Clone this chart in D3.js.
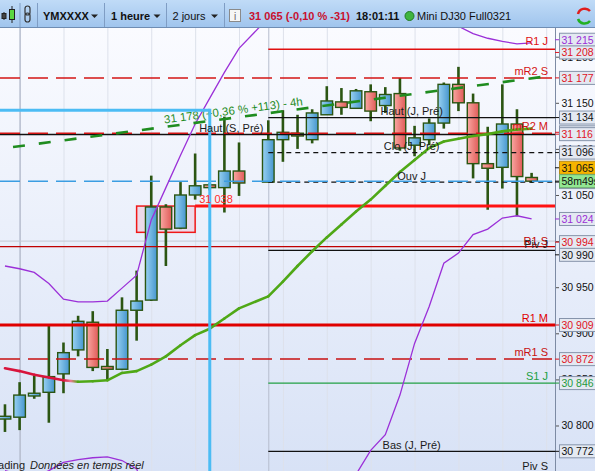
<!DOCTYPE html>
<html><head><meta charset="utf-8">
<script src="https://cdn.jsdelivr.net/npm/d3@7"></script>
<style>
html,body{margin:0;padding:0;background:#fff;overflow:hidden}
svg{display:block;font-family:"Liberation Sans",Arial,Helvetica,sans-serif}
</style></head><body>
<svg id="c" width="595" height="471"></svg>
<script>
// ---------------- DATA ----------------
const barIndex = [0,1,2,3,4,5,6,7,8,9,10,11,12,13,14,15,16,18,19,20,21,22,23,24,25,26,27,28,29,30,31,32,33,34,35,36];
const opens  = [30807,30809,30832,30836,30856,30882,30912,30864,30861,30925,30936,31037,31014,31050,31061,31058,31076,
                31064,31110,31117,31110,31137,31151,31144,31162,31147,31160,31104,31110,31128,31170,31150,31084,31080,31127,31069];
const highs  = [30823,30847,30854,30909,30890,30919,30924,30883,30939,30968,31071,31040,31064,31095,31063,31135,31107,
                31131,31142,31137,31143,31168,31166,31165,31170,31167,31177,31125,31133,31172,31189,31160,31124,31170,31143,31074];
const lows   = [30793,30795,30829,30803,30835,30875,30859,30849,30860,30892,30935,30973,31013,31045,31055,31031,31049,
                31064,31086,31100,31106,31137,31137,31144,31130,31139,31098,31092,31104,31122,31141,31068,31034,31057,31027,31063];
const closes = [30810,30833,30835,30853,30879,30913,30863,30861,30925,30935,31037,31013,31050,31060,31058,31076,31063,
                31110,31118,31114,31139,31152,31145,31163,31141,31159,31101,31112,31128,31170,31150,31084,31079,31127,31070,31065];
const maValues = [30862,30859,30855,30852,30849,30847.5,30848,30849,30857,30859,30866,30875,30887,30898,30905,30916,30927,
                  30940,30956,30973,30989,31004,31018,31032,31045,31060,31075,31088,31101,31108,31111,31114,31116,31119,31121,31122];
const bbUpper = [30973,30970,30966,30954,30937,30934,30934,30935,30949,30963,31023,31058,31093,31127,31155,31183,31209,
                 31242,31251,31256,31260,31263,31265,31266,31266,31265,31262,31258,31252,31244,31233,31225,31220,31216.5,31214,31215];
const bbLower = [30751,30747,30744,30751,30760,30763,30765,30766,30762,30753,30710,30693,30680,30669,30656,30649,30645,
                 30637,30640,30650,30665,30685,30712,30747,30773,30790,30833,30889,30929,30976,30987,31007,31013,31025,31027.5,31024];

const levelNames  = ["R1 J","mR2 S","Haut (J, Pré)","Haut (S, Pré)","mR2 M","Clo (J, Pré)","Ouv J","Dernier","31 038","R1 S","Piv J","R1 M","mR1 S","S1 J","Bas (J, Pré)","Piv S"];
const levelValues = [31208,31177,31134,31115.5,31117,31096,31064,31065,31038,30994,30990,30909,30872,30846,30772,30748];

const tickValues = [30800,30850,30900,30950,31000,31050,31100,31150,31200];
const gridBars = [1,4,7,10,13,16,19,22,25,28,31,34,37];
const dayBars = [1,18];
const hGridValues = [31000];

const trendBars = [0.55, 36.9];
const trendValues = [31102, 31178.5];
const trendLabel = "31 178 (+0,36 % +113) - 4h";

const zoneBars = [9, 13];
const zoneValues = [31038, 31009.5];
const cursorBar = 14, cursorValue = 31142;

const boxValues = [31118,31064,31215,31208,31177,31134,31116,31096,31024,30994,30990,30909,30872,30846,30772];
const boxRoles  = ["res","day","band","res","res","day","res","day","band","res","day","res","res","sup","day"];
const hiddenBoxValues = [31118,31064];
const lastPrice = 31065;
const countdownText = "58m49s";

const toolbarTexts = ["YMXXXX","1 heure","2 jours","31 065 (-0,10 % -31)","18:01:11","Mini DJ30 Full0321"];
const footerTexts = ["Trading","Données en temps réel"];

// ---------------- SETUP ----------------
const svg = d3.select("#c");
const PR = 555, PT = 28, PB = 471;
const x = d3.scaleLinear().domain([-0.34, 37.6]).range([0, PR]);
const y = d3.scaleLinear().domain([30700, 31300]).range([325 + 209*0.922, 325 - 391*0.922]);
const locale = d3.formatLocale({decimal:",", thousands:" ", grouping:[3], currency:["",""]});
const fmt = locale.format(",d");

const defs = svg.append("defs");
const bg = defs.append("linearGradient").attr("id","bg").attr("x1",0).attr("y1",0).attr("x2",0).attr("y2",1);
bg.append("stop").attr("offset","0%").attr("stop-color","#fafbff");
bg.append("stop").attr("offset","100%").attr("stop-color","#d8e2f6");
const tbg = defs.append("linearGradient").attr("id","tbg").attr("x1",0).attr("y1",0).attr("x2",0).attr("y2",1);
tbg.append("stop").attr("offset","0%").attr("stop-color","#c0dbf7");
tbg.append("stop").attr("offset","100%").attr("stop-color","#9fc4ed");
const ug = defs.append("linearGradient").attr("id","up").attr("x1",0).attr("y1",0).attr("x2",1).attr("y2",0);
ug.append("stop").attr("offset","0%").attr("stop-color","#98d1f2");
ug.append("stop").attr("offset","100%").attr("stop-color","#4696ce");
const dg = defs.append("linearGradient").attr("id","dn").attr("x1",0).attr("y1",0).attr("x2",1).attr("y2",0);
dg.append("stop").attr("offset","0%").attr("stop-color","#f9a7a2");
dg.append("stop").attr("offset","100%").attr("stop-color","#e05b58");
defs.append("clipPath").attr("id","plot").append("rect").attr("x",0).attr("y",PT).attr("width",PR).attr("height",PB-PT);

svg.append("rect").attr("x",0).attr("y",PT).attr("width",595).attr("height",PB-PT).attr("fill","url(#bg)");

const plot = svg.append("g").attr("clip-path","url(#plot)");

// grid
plot.selectAll(".vg").data(gridBars).join("line")
  .attr("x1",d=>x(d)+0.5).attr("x2",d=>x(d)+0.5).attr("y1",PT).attr("y2",PB)
  .attr("stroke",d=>dayBars.includes(d)?"#b5bccd":"#dde1eb").attr("stroke-width",1);
plot.selectAll(".vd").data(dayBars).join("line")
  .attr("x1",d=>x(d)+0.5).attr("x2",d=>x(d)+0.5).attr("y1",PT).attr("y2",PB)
  .attr("stroke","#b5bccd").attr("stroke-width",1);
plot.selectAll(".hg").data(hGridValues).join("line")
  .attr("x1",0).attr("x2",PR).attr("y1",d=>y(d)).attr("y2",d=>y(d))
  .attr("stroke","#c3c9d6").attr("stroke-width",1);

// zone rectangle
plot.append("rect")
  .attr("x",x(zoneBars[0])).attr("width",x(zoneBars[1])-x(zoneBars[0]))
  .attr("y",y(zoneValues[0])).attr("height",y(zoneValues[1])-y(zoneValues[0]))
  .attr("fill","rgba(240,190,210,0.45)").attr("stroke","#f01818").attr("stroke-width",1.5);

// candles
const bars = barIndex.map((b,i)=>({b,o:opens[i],h:highs[i],l:lows[i],c:closes[i]}));
const cg = plot.append("g");
cg.selectAll(".wick").data(bars).join("line")
  .attr("x1",d=>x(d.b)).attr("x2",d=>x(d.b)).attr("y1",d=>y(d.h)).attr("y2",d=>y(d.l))
  .attr("stroke","#2b5512").attr("stroke-width",2.6);
cg.selectAll(".body").data(bars).join("rect")
  .attr("x",d=>x(d.b)-5.8).attr("width",11.6)
  .attr("y",d=>y(Math.max(d.o,d.c))).attr("height",d=>Math.max(2.5,Math.abs(y(d.o)-y(d.c))))
  .attr("fill",d=>d.c>=d.o?"url(#up)":"url(#dn)")
  .attr("stroke","#2b5512").attr("stroke-width",1.4);

// level lines
const lv = {
  "R1 J":{c:"#e01010",w:1.5,d:null,s:18,lab:"right",dy:-4},
  "mR2 S":{c:"#d41414",w:1.5,d:"20,8",s:-1,lab:"right",dy:-3},
  "Haut (J, Pré)":{c:"#111",w:1.3,d:null,s:18,lab:"mid",dy:-2.5},
  "Haut (S, Pré)":{c:"#111",w:1.5,d:null,s:-1,lab:"start",ls:13,dy:-2.5},
  "mR2 M":{c:"#d41414",w:1.5,d:"20,8",s:-1,lab:"right",dy:-3},
  "Clo (J, Pré)":{c:"#111",w:1.3,d:"5,4",s:18,lab:"mid",dy:-3},
  "Ouv J":{c:"#111",w:1.3,d:"5,4",s:18,lab:"mid",dy:-2.5},
  "Dernier":{c:"#3b9de2",w:1.5,d:"20,8",s:-1,lab:null},
  "31 038":{c:"#ff1212",w:3,d:null,s:13,lab:"start",ls:13,dy:-3.5,col:"#ff2a2a"},
  "R1 S":{c:"#c00000",w:1.2,d:null,s:-1,lab:"right",dy:-2},
  "Piv J":{c:"#111",w:1.2,d:null,s:18,lab:"right",dy:-2,col:"#222"},
  "R1 M":{c:"#e00000",w:3,d:null,s:-1,lab:"right",dy:-3},
  "mR1 S":{c:"#c81010",w:1.5,d:"20,8",s:-1,lab:"right",dy:-3},
  "S1 J":{c:"#22a044",w:1.3,d:null,s:18,lab:"right",dy:-3},
  "Bas (J, Pré)":{c:"#111",w:1.3,d:null,s:18,lab:"mid",dy:-2},
  "Piv S":{c:"#111",w:1.3,d:null,s:18,lab:"right",dy:-1}
};
const levels = levelNames.map((n,i)=>({n,v:levelValues[i],st:lv[n]}));
plot.selectAll(".lvl").data(levels).join("line")
  .attr("x1",d=>d.st.s<0?0:x(d.st.s)).attr("x2",PR)
  .attr("y1",d=>y(d.v)).attr("y2",d=>y(d.v))
  .attr("stroke",d=>d.st.c).attr("stroke-width",d=>d.st.w)
  .attr("stroke-dasharray",d=>d.st.d);

// Bollinger
const bbLine = d3.line().x(d=>x(d[0])).y(d=>y(d[1]));
plot.append("path").attr("d",bbLine(barIndex.map((b,i)=>[b,bbUpper[i]])))
  .attr("fill","none").attr("stroke","#9b30d8").attr("stroke-width",1.3);
plot.append("path").attr("d",bbLine(barIndex.map((b,i)=>[b,bbLower[i]])))
  .attr("fill","none").attr("stroke","#9b30d8").attr("stroke-width",1.3);

// Moving average, colored by direction
const red="#d8143c", green="#4fa816";
for(let i=0;i<barIndex.length-1;i++){
  const up = maValues[i+1]>=maValues[i];
  const nextUp = i+2<barIndex.length ? maValues[i+2]>=maValues[i+1] : up;
  let col = up?green:red;
  if(!up && nextUp){
    const gid="ma"+i;
    const g=defs.append("linearGradient").attr("id",gid).attr("gradientUnits","userSpaceOnUse")
      .attr("x1",x(barIndex[i])).attr("x2",x(barIndex[i+1])).attr("y1",0).attr("y2",0);
    g.append("stop").attr("offset","0%").attr("stop-color",red);
    g.append("stop").attr("offset","50%").attr("stop-color","#ec7a90");
    g.append("stop").attr("offset","100%").attr("stop-color",green);
    col="url(#"+gid+")";
  }
  plot.append("line").attr("x1",x(barIndex[i])).attr("x2",x(barIndex[i+1]))
    .attr("y1",y(maValues[i])).attr("y2",y(maValues[i+1]))
    .attr("stroke",col).attr("stroke-width",2.6).attr("stroke-linecap","round");
}

// trend line
const tx1=x(trendBars[0]), ty1=y(trendValues[0]), tx2=x(trendBars[1]), ty2=y(trendValues[1]);
plot.append("line").attr("x1",tx1).attr("y1",ty1).attr("x2",tx2).attr("y2",ty2)
  .attr("stroke","#1f8c1f").attr("stroke-width",2.6).attr("stroke-dasharray","12,14");
const ang = Math.atan2(ty2-ty1, tx2-tx1)*180/Math.PI;
const lx = 165, ly = ty1 + (ty2-ty1)*(lx-tx1)/(tx2-tx1);
plot.append("text").attr("transform",`translate(${lx},${ly}) rotate(${ang})`).attr("y",-3.5)
  .attr("font-size",11.5).attr("fill","#1f8c1f").text(trendLabel);

// cursor lines
plot.append("line").attr("x1",0).attr("x2",x(cursorBar)).attr("y1",y(cursorValue)).attr("y2",y(cursorValue))
  .attr("stroke","#4cbcf4").attr("stroke-width",3);
plot.append("line").attr("x1",x(cursorBar)).attr("x2",x(cursorBar)).attr("y1",y(cursorValue)-1.5).attr("y2",PB)
  .attr("stroke","#4cbcf4").attr("stroke-width",3);

// level labels
const lg = plot.append("g").attr("font-size",11);
levels.filter(d=>d.st.lab).forEach(d=>{
  const st=d.st;
  const col = st.col || (st.c==="#111"?"#1a1a1a":st.c);
  let tx, anchor;
  if(st.lab==="right"){tx=548; anchor="end";}
  else if(st.lab==="mid"){tx=(x(st.s)+PR)/2; anchor="middle";}
  else {tx=x(st.ls)+4; anchor="start";}
  const yy = d.n==="Piv S" ? PB-1.5 : y(d.v)+st.dy;
  lg.append("text").attr("x",tx).attr("y",yy).attr("text-anchor",anchor).attr("fill",col).text(d.n);
});

// footer
svg.append("text").attr("x",25).attr("y",469).attr("text-anchor","end").attr("font-size",11).attr("fill","#222").text(footerTexts[0]);
svg.append("text").attr("x",30).attr("y",469).attr("font-size",11).attr("font-style","italic").attr("fill","#222").text(footerTexts[1]);

// right axis
const ax = svg.append("g").attr("transform",`translate(${PR},0)`)
  .call(d3.axisRight(y).tickValues(tickValues).tickSize(4).tickPadding(2.5).tickFormat(fmt));
ax.select(".domain").remove();
ax.selectAll("text").attr("font-size",10.5).attr("font-family","Liberation Sans, Arial, sans-serif").attr("fill","#111");
ax.selectAll("line").attr("stroke","#555");
svg.append("line").attr("x1",PR+0.5).attr("x2",PR+0.5).attr("y1",PT).attr("y2",PB).attr("stroke","#7d8ba4").attr("stroke-width",1);

// axis value boxes
const roleCol = {res:"#e0141e",day:"#111",band:"#9a2ed6",sup:"#1e9a3c"};
const items = boxValues.map((v,i)=>({v,t:fmt(v),col:roleCol[boxRoles[i]],fill:"#e4e9f2",stroke:"#8694ab",y:y(v),order:i,hidden:hiddenBoxValues.includes(v)}));
items.push({v:lastPrice,t:fmt(lastPrice),col:"#111",fill:"#f6b400",stroke:"#b58a1a",y:y(lastPrice)-13.4,fixed:true,order:100});
items.push({v:lastPrice,t:countdownText,col:"#111",fill:"#92e792",stroke:"#6aa86a",y:y(lastPrice),fixed:true,order:101});
const srt = items.filter(d=>!d.hidden).sort((a,b)=>a.y-b.y), BH=12.7;
for(let it=0;it<300;it++){
  let moved=false;
  for(let i=0;i<srt.length-1;i++){
    const a=srt[i], b=srt[i+1]; const ov=BH-(b.y-a.y);
    if(ov>0.01){moved=true;
      if(a.fixed&&!b.fixed) b.y+=ov; else if(!a.fixed&&b.fixed) a.y-=ov;
      else if(!a.fixed&&!b.fixed){a.y-=ov/2;b.y+=ov/2;}
    }
  }
  if(!moved)break;
}
const bx = svg.append("g");
items.sort((a,b)=>a.order-b.order).forEach(d=>{
  bx.append("line").attr("x1",PR).attr("x2",559.5).attr("y1",d.y).attr("y2",d.y).attr("stroke",d.col).attr("stroke-width",1);
  bx.append("rect").attr("x",559.5).attr("y",d.y-6.5).attr("width",36).attr("height",13)
    .attr("fill",d.fill).attr("stroke",d.stroke).attr("stroke-width",1);
  bx.append("text").attr("x",561.5).attr("y",d.y+3.8).attr("font-size",10.5).attr("fill",d.col).text(d.t);
});

// toolbar
const tb = svg.append("g");
tb.append("rect").attr("x",0).attr("y",0).attr("width",595).attr("height",28).attr("fill","url(#tbg)");
tb.append("line").attr("x1",0).attr("x2",595).attr("y1",27.5).attr("y2",27.5).attr("stroke","#6f8db3");
[20,37.5,104.5,166.5,224.5].forEach(sx=>{
  tb.append("line").attr("x1",sx).attr("x2",sx).attr("y1",3).attr("y2",27).attr("stroke","#7f9dc4");
});
// candle icon
tb.append("line").attr("x1",4).attr("x2",4).attr("y1",12).attr("y2",20).attr("stroke","#222");
tb.append("rect").attr("x",2).attr("y",13.5).attr("width",4).attr("height",5).attr("fill","#444").attr("stroke","#222");
tb.append("line").attr("x1",12).attr("x2",12).attr("y1",6).attr("y2",23).attr("stroke","#222");
tb.append("rect").attr("x",9.5).attr("y",9.5).attr("width",5).attr("height",10).attr("fill","#5bd642").attr("stroke","#222");
// link icon
tb.append("rect").attr("x",25).attr("y",6).attr("width",5).attr("height",9).attr("rx",2.5).attr("fill","none").attr("stroke","#333").attr("stroke-width",1.2);
tb.append("rect").attr("x",25).attr("y",13).attr("width",5).attr("height",9).attr("rx",2.5).attr("fill","none").attr("stroke","#333").attr("stroke-width",1.2);
const tbt = tb.append("g").attr("font-size",11).attr("fill","#111");
tbt.append("text").attr("x",43).attr("y",20).attr("font-weight","bold").text(toolbarTexts[0]);
tbt.append("text").attr("x",111).attr("y",20).attr("font-weight","bold").text(toolbarTexts[1]);
tbt.append("text").attr("x",172.5).attr("y",20).text(toolbarTexts[2]);
tbt.append("text").attr("x",249).attr("y",20).attr("font-weight","bold").attr("fill","#c8102e").text(toolbarTexts[3]);
tbt.append("text").attr("x",356).attr("y",20).attr("font-weight","bold").text(toolbarTexts[4]);
tbt.append("text").attr("x",417).attr("y",20).text(toolbarTexts[5]);
[94.5,157,214.5].forEach(ax0=>{
  tb.append("path").attr("d",`M${ax0-3.5},${14.5}L${ax0+3.5},${14.5}L${ax0},${18}Z`).attr("fill","#222");
});
tb.append("rect").attr("x",229.5).attr("y",9.5).attr("width",11).attr("height",12).attr("fill","#f6f6f6").attr("stroke","#8a8a8a");
tb.append("text").attr("x",235).attr("y",19.5).attr("text-anchor","middle").attr("font-size",10).attr("fill","#666").text("i");
tb.append("circle").attr("cx",409.5).attr("cy",16).attr("r",4.5).attr("fill","#3fb53f").attr("stroke","#227a22");
// refresh icon
tb.append("path").attr("d","M590,11 A7,7 0 0 0 578,14").attr("fill","none").attr("stroke","#e01d1d").attr("stroke-width",2.5);
tb.append("path").attr("d","M578,19 A7,7 0 0 0 590,21").attr("fill","none").attr("stroke","#22b022").attr("stroke-width",2.5);
</script>
</body></html>
